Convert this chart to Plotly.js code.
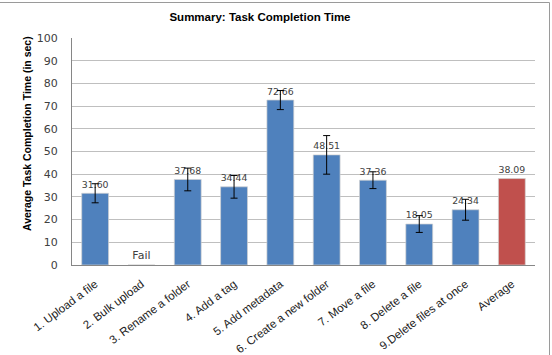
<!DOCTYPE html>
<html>
<head>
<meta charset="utf-8">
<script src="https://cdn.plot.ly/plotly-3.0.1.min.js"></script>
<style>html,body{margin:0;padding:0;background:#fff;}#chart{width:552px;height:355px;}</style>
</head>
<body>
<div id="chart"></div>
<script>
var categories = ["1. Upload a file", "2. Bulk upload", "3. Rename a folder", "4. Add a tag", "5. Add metadata", "6. Create a new folder", "7. Move a file", "8. Delete a file", "9.Delete files at once", "Average"];
var values = [31.60, 0, 37.68, 34.44, 72.66, 48.51, 37.36, 18.05, 24.34, 38.09];
var labels = ["31.60", "Fail", "37.68", "34.44", "72.66", "48.51", "37.36", "18.05", "24.34", "38.09"];
var errors = [4.2, NaN, 5.0, 5.0, 4.2, 8.5, 3.7, 3.7, 4.6, NaN];
var barColors = ["#4F81BD", "#4F81BD", "#4F81BD", "#4F81BD", "#4F81BD", "#4F81BD", "#4F81BD", "#4F81BD", "#4F81BD", "#C0504D"];

var L = 72, R = 535, T = 38, B = 265, W = 552, H = 355;
function px(x){ return (x - L) / (R - L); }
function py(y){ return (B - y) / (B - T); }

var trace = {
  type: "bar",
  x: categories,
  y: values,
  text: labels,
  textposition: "outside",
  cliponaxis: false,
  textfont: {family: "DejaVu Sans", size: 11, color: "#404040"},
  marker: {color: barColors, line: {color: "rgba(210,210,210,0.7)", width: 1}},
  error_y: {type: "data", array: errors, visible: true, color: "#000", thickness: 1, width: 3.5},
  hoverinfo: "none"
};

var layout = {
  width: W, height: H,
  margin: {l: L, r: W - R, t: T, b: H - B},
  paper_bgcolor: "#fff",
  plot_bgcolor: "#fff",
  showlegend: false,
  bargap: 0.42,
  title: {text: "Summary: Task Completion Time", font: {family: "Liberation Sans", size: 11.5, color: "#000", weight: "bold"}, x: px(260), xref: "paper", xanchor: "center", y: 1 - 17 / H, yanchor: "middle"},
  xaxis: {
    type: "category",
    showgrid: false,
    showline: true, linecolor: "#868686", linewidth: 1,
    tickangle: -37,
    tickfont: {family: "Liberation Sans", size: 11.5, color: "#222"},
    ticks: "outside", ticklen: 7, tickcolor: "rgba(0,0,0,0)", automargin: false
  },
  yaxis: {
    range: [0, 100],
    dtick: 10,
    showgrid: true, gridcolor: "#BFBFBF", gridwidth: 1,
    showline: true, linecolor: "#868686", linewidth: 1,
    zeroline: false,
    ticks: "outside", ticklen: 11, tickcolor: "rgba(0,0,0,0)",
    tickfont: {family: "DejaVu Sans", size: 11, color: "#404040"},
    automargin: false
  },
  annotations: [{
    text: "Average Task Completion Time (in sec)",
    xref: "paper", yref: "paper",
    x: px(27), y: py(134),
    xanchor: "center", yanchor: "middle",
    textangle: -90, showarrow: false,
    font: {family: "Liberation Sans", size: 10.5, color: "#000", weight: "bold"}
  }],
  shapes: [
    {type: "line", xref: "paper", yref: "paper", x0: px(-2), x1: px(549.5), y0: py(2.5), y1: py(2.5), line: {color: "#9a9a9a", width: 1}},
    {type: "line", xref: "paper", yref: "paper", x0: px(549.5), x1: px(549.5), y0: py(2.5), y1: py(360), line: {color: "#9a9a9a", width: 1}}
  ]
};

Plotly.newPlot("chart", [trace], layout, {displayModeBar: false, staticPlot: true});
</script>
</body>
</html>
